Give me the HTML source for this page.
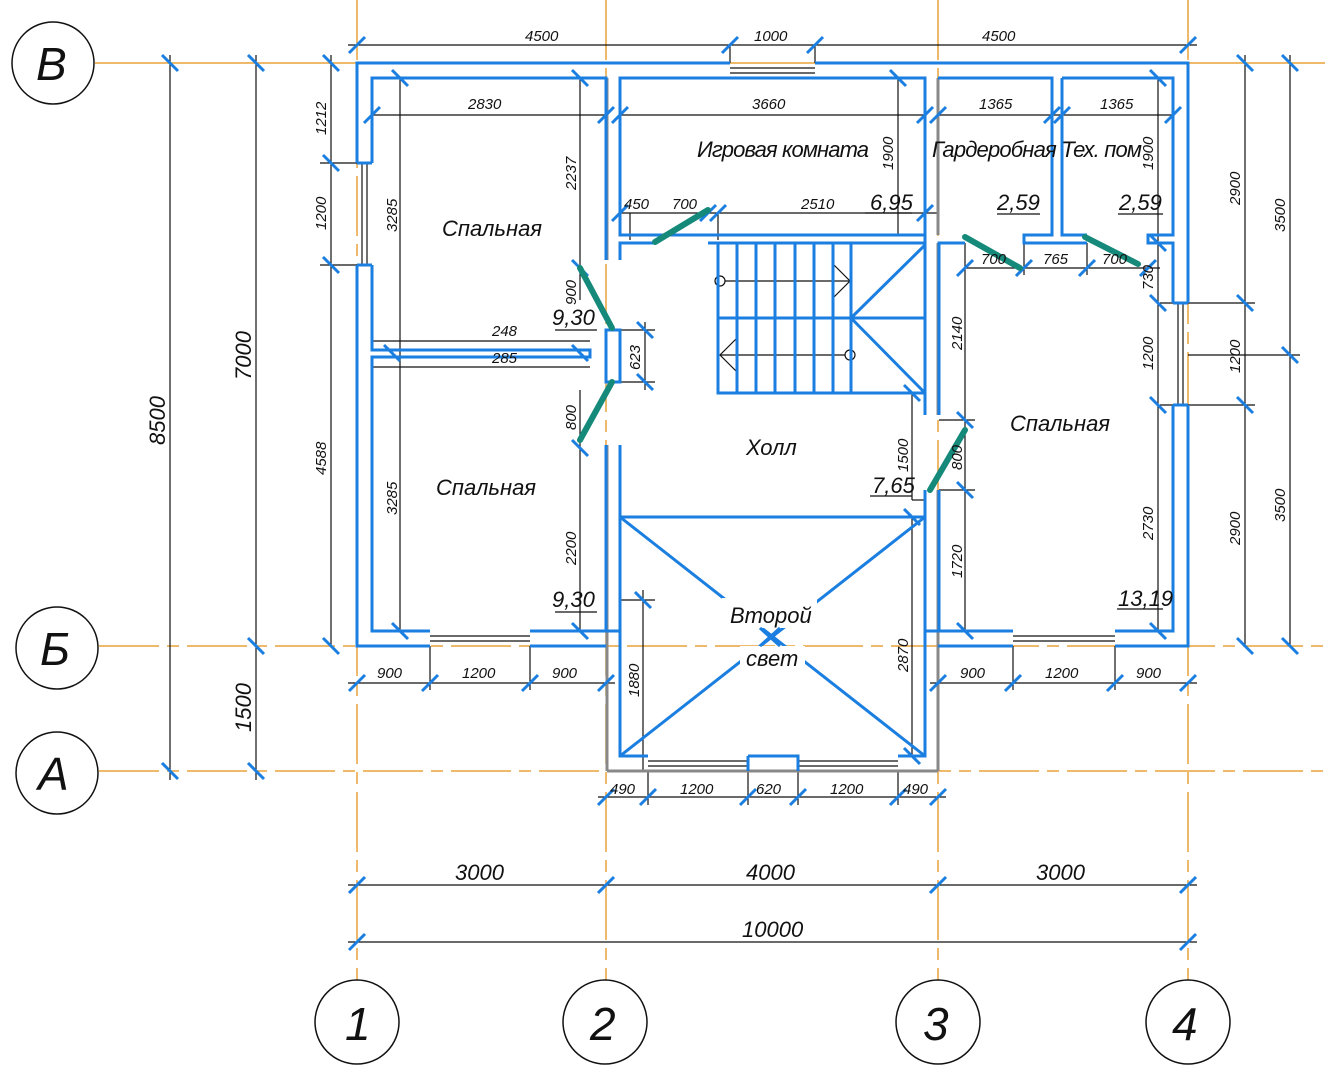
<!DOCTYPE html>
<html><head><meta charset="utf-8"><style>
html,body{margin:0;padding:0;background:#fff}
svg{display:block}
text{font-family:"Liberation Sans",sans-serif;font-style:italic;fill:#111}
</style></head><body>
<svg width="1325" height="1080" viewBox="0 0 1325 1080" xmlns="http://www.w3.org/2000/svg">
<!-- axes -->
<g stroke="#e8a23a" stroke-width="1.5" fill="none">
<line x1="95" y1="63" x2="1325" y2="63"/>
<line x1="99" y1="646" x2="1325" y2="646" stroke-dasharray="60 8 12 8"/>
<line x1="99" y1="771" x2="1325" y2="771" stroke-dasharray="60 8 12 8"/>
<line x1="357" y1="0" x2="357" y2="980" stroke-dasharray="60 8 12 8"/>
<line x1="606" y1="0" x2="606" y2="980" stroke-dasharray="60 8 12 8"/>
<line x1="938" y1="0" x2="938" y2="980" stroke-dasharray="60 8 12 8"/>
<line x1="1188" y1="0" x2="1188" y2="980" stroke-dasharray="60 8 12 8"/>
</g>
<g stroke="#111" stroke-width="1.5" fill="none">
<circle cx="53" cy="63" r="41"/><circle cx="57" cy="648" r="41"/><circle cx="57" cy="773" r="41"/>
<circle cx="357" cy="1022" r="42"/><circle cx="605" cy="1022" r="42"/><circle cx="938" cy="1022" r="42"/><circle cx="1188" cy="1022" r="42"/>
</g>
<g font-size="46">
<text x="36" y="80">В</text><text x="40" y="665">Б</text><text x="38" y="790">А</text>
<text x="345" y="1040">1</text><text x="590" y="1040">2</text><text x="923" y="1040">3</text><text x="1172" y="1040">4</text>
</g>
<!-- dimension lines black -->
<g stroke="#111" stroke-width="1.2" fill="none">
<line x1="170" y1="55" x2="170" y2="780"/><line x1="256" y1="55" x2="256" y2="780"/><line x1="331" y1="55" x2="331" y2="646"/>
<line x1="320" y1="163" x2="357" y2="163"/><line x1="320" y1="265" x2="357" y2="265"/>
<line x1="1245" y1="55" x2="1245" y2="646"/><line x1="1290" y1="55" x2="1290" y2="646"/>
<line x1="1160" y1="303" x2="1255" y2="303"/><line x1="1160" y1="405" x2="1255" y2="405"/><line x1="1188" y1="355" x2="1300" y2="355"/>
<line x1="348" y1="45" x2="1197" y2="45"/>
<line x1="730" y1="45" x2="730" y2="63"/><line x1="815" y1="45" x2="815" y2="63"/>
<line x1="348" y1="683" x2="615" y2="683"/><line x1="930" y1="683" x2="1197" y2="683"/>
<line x1="430" y1="646" x2="430" y2="690"/><line x1="530" y1="646" x2="530" y2="690"/>
<line x1="1013" y1="646" x2="1013" y2="690"/><line x1="1115" y1="646" x2="1115" y2="690"/>
<line x1="598" y1="797" x2="946" y2="797"/>
<line x1="648" y1="771" x2="648" y2="805"/><line x1="748" y1="771" x2="748" y2="805"/><line x1="798" y1="771" x2="798" y2="805"/><line x1="898" y1="771" x2="898" y2="805"/>
<line x1="348" y1="885" x2="1197" y2="885"/><line x1="348" y1="942" x2="1197" y2="942"/>
<line x1="372" y1="115" x2="606" y2="115"/><line x1="400" y1="78" x2="400" y2="631"/><line x1="580" y1="78" x2="580" y2="300"/>
<line x1="580" y1="390" x2="580" y2="631"/>
<line x1="620" y1="115" x2="925" y2="115"/><line x1="898" y1="78" x2="898" y2="235"/>
<line x1="938" y1="115" x2="1173" y2="115"/><line x1="1158" y1="78" x2="1158" y2="631"/>
<line x1="620" y1="213" x2="938" y2="213"/><line x1="630" y1="213" x2="630" y2="240"/><line x1="718" y1="213" x2="718" y2="240"/><line x1="925" y1="213" x2="925" y2="235"/>
<line x1="965" y1="268" x2="1160" y2="268"/><line x1="965" y1="243" x2="965" y2="631"/><line x1="1024" y1="243" x2="1024" y2="275"/><line x1="1087" y1="243" x2="1087" y2="275"/>
<line x1="373" y1="341" x2="590" y2="341"/><line x1="373" y1="367" x2="590" y2="367"/>
<line x1="620" y1="330" x2="655" y2="330"/><line x1="620" y1="382" x2="655" y2="382"/><line x1="645" y1="322" x2="645" y2="390"/>
<line x1="912" y1="393" x2="912" y2="500"/><line x1="912" y1="500" x2="925" y2="500"/><line x1="939" y1="420" x2="975" y2="420"/><line x1="939" y1="490" x2="975" y2="490"/>
<line x1="620" y1="600" x2="655" y2="600"/><line x1="643" y1="590" x2="643" y2="771"/>
<line x1="912" y1="517" x2="912" y2="756"/>
<line x1="555" y1="330" x2="597" y2="330"/><line x1="555" y1="612" x2="597" y2="612"/><line x1="865" y1="213" x2="912" y2="213"/>
<line x1="870" y1="496" x2="912" y2="496"/><line x1="997" y1="214" x2="1040" y2="214"/><line x1="1118" y1="214" x2="1163" y2="214"/><line x1="1117" y1="609" x2="1163" y2="609"/>
<line x1="730" y1="68" x2="815" y2="68"/><line x1="730" y1="73" x2="815" y2="73"/>
<line x1="362" y1="163" x2="362" y2="265"/><line x1="367" y1="163" x2="367" y2="265"/>
<line x1="1178" y1="303" x2="1178" y2="405"/><line x1="1183" y1="303" x2="1183" y2="405"/>
<line x1="430" y1="636" x2="530" y2="636"/><line x1="430" y1="641" x2="530" y2="641"/>
<line x1="1013" y1="636" x2="1115" y2="636"/><line x1="1013" y1="641" x2="1115" y2="641"/>
<line x1="648" y1="761" x2="748" y2="761"/><line x1="648" y1="766" x2="748" y2="766"/>
<line x1="798" y1="761" x2="898" y2="761"/><line x1="798" y1="766" x2="898" y2="766"/>
<line x1="725" y1="281" x2="850" y2="281"/><polyline points="832,263 850,281 832,299"/><circle cx="720" cy="281" r="5" fill="#fff"/>
<line x1="720" y1="355" x2="845" y2="355"/><polyline points="738,337 720,355 738,373"/><circle cx="850" cy="355" r="5" fill="#fff"/>
</g>
<g stroke="#888" stroke-width="3" fill="none">
<line x1="607" y1="78" x2="607" y2="260"/><line x1="607" y1="445" x2="607" y2="771"/><line x1="607" y1="771" x2="938" y2="771"/>
<line x1="938" y1="78" x2="938" y2="235"/><line x1="938" y1="243" x2="938" y2="415"/><line x1="938" y1="490" x2="938" y2="771"/>
</g>
<g stroke="#1a7fe0" stroke-width="3" fill="none">
<path d="M357,163 V63 H730 M815,63 H1188 V303 M1188,405 V646 H1115 M1013,646 H938 M606,646 H530 M430,646 H357 V265"/>
<path d="M372,163 V78 H606 V260 M372,265 V350 H590 V357 H372 V631 H430 M530,631 H606 V445"/>
<path d="M357,163 H372 M357,265 H372"/>
<path d="M620,260 V243 H655 M708,243 H925 M925,243 V235 H620 V78 H925 V235"/>
<path d="M620,330 H606 V382 H620 Z"/>
<path d="M620,445 V756 H648 M748,756 V771 M748,756 H798 V771 M898,756 H925 V490 M925,415 V243"/>
<path d="M938,78 H1052 V235 H1024 V243 H1087 M1062,78 H1173 V235 H1148 V243 H1173 V303 M1173,405 V631 H1115 M1013,631 H939 V490 M939,415 V243 H965"/>
<path d="M1052,78 V235 M1062,78 V235 H1087"/>
<path d="M1173,303 H1188 M1173,405 H1188 M606,631 H620 M925,631 H938"/>
<path d="M718,243 V393 H925 M718,318 H925 M851,243 V393 M851,318 L925,245 M851,318 L925,393"/>
<path d="M737,243V393M756,243V393M775,243V393M795,243V393M814,243V393M833,243V393"/>
<path d="M620,517 H925 M620,517 L925,756 M925,517 L620,756"/>
</g>
<rect x="722" y="598" width="95" height="30" fill="#fff"/>
<rect x="740" y="646" width="65" height="28" fill="#fff"/>
<g stroke="#1a7fe0" stroke-width="3" fill="none">
<path d="M760,628 L780,646 M780,628 L760,646"/>
<path d="M349,53l16,-16M722,53l16,-16M807,53l16,-16M1180,53l16,-16
M349,691l16,-16M422,691l16,-16M522,691l16,-16M598,691l16,-16M930,691l16,-16M1005,691l16,-16M1107,691l16,-16M1180,691l16,-16
M598,805l16,-16M640,805l16,-16M740,805l16,-16M790,805l16,-16M890,805l16,-16M930,805l16,-16
M349,893l16,-16M598,893l16,-16M930,893l16,-16M1180,893l16,-16M349,950l16,-16M1180,950l16,-16
M364,123l16,-16M598,123l16,-16M612,123l16,-16M917,123l16,-16M930,123l16,-16M1044,123l16,-16M1054,123l16,-16M1165,123l16,-16
M612,221l16,-16M700,221l16,-16M710,221l16,-16M917,221l16,-16
M957,276l16,-16M1016,276l16,-16M1079,276l16,-16M1140,276l16,-16"/>
<path d="M162,55l16,16M162,763l16,16M248,55l16,16M248,638l16,16M248,763l16,16
M323,55l16,16M323,155l16,16M323,257l16,16M323,638l16,16
M1237,55l16,16M1237,295l16,16M1237,397l16,16M1237,638l16,16M1282,55l16,16M1282,347l16,16M1282,638l16,16
M392,70l16,16M392,623l16,16M572,70l16,16M572,260l16,16M572,440l16,16M572,623l16,16
M890,70l16,16M637,322l16,16M637,374l16,16M635,592l16,16M904,509l16,16M904,748l16,16M904,385l16,16
M1150,70l16,16M1150,235l16,16M1150,295l16,16M1150,397l16,16M1150,623l16,16
M957,412l16,16M957,482l16,16M957,623l16,16M384,345l16,16M572,345l16,16"/>
</g>
<g stroke="#15897a" stroke-width="6" stroke-linecap="round" fill="none">
<line x1="655" y1="242" x2="708" y2="210"/><line x1="580" y1="268" x2="612" y2="328"/><line x1="612" y1="382" x2="580" y2="440"/>
<line x1="930" y1="490" x2="965" y2="430"/><line x1="965" y1="237" x2="1020" y2="268"/><line x1="1085" y1="237" x2="1138" y2="264"/>
</g>
<g font-size="15">
<text x="525" y="41">4500</text><text x="754" y="41">1000</text><text x="982" y="41">4500</text>
<text x="468" y="109">2830</text><text x="752" y="109">3660</text><text x="979" y="109">1365</text><text x="1100" y="109">1365</text>
<text x="624" y="209">450</text><text x="672" y="209">700</text><text x="801" y="209">2510</text>
<text x="981" y="264">700</text><text x="1043" y="264">765</text><text x="1102" y="264">700</text>
<text x="492" y="336">248</text><text x="492" y="363">285</text>
<text x="377" y="678">900</text><text x="462" y="678">1200</text><text x="552" y="678">900</text>
<text x="960" y="678">900</text><text x="1045" y="678">1200</text><text x="1136" y="678">900</text>
<text x="610" y="794">490</text><text x="680" y="794">1200</text><text x="756" y="794">620</text><text x="830" y="794">1200</text><text x="903" y="794">490</text>
</g>
<g font-size="15">
<text transform="translate(326,135) rotate(-90)">1212</text>
<text transform="translate(326,230) rotate(-90)">1200</text>
<text transform="translate(326,475) rotate(-90)">4588</text>
<text transform="translate(397,232) rotate(-90)">3285</text>
<text transform="translate(397,515) rotate(-90)">3285</text>
<text transform="translate(576,190) rotate(-90)">2237</text>
<text transform="translate(576,565) rotate(-90)">2200</text>
<text transform="translate(576,305) rotate(-90)">900</text>
<text transform="translate(576,430) rotate(-90)">800</text>
<text transform="translate(640,370) rotate(-90)">623</text>
<text transform="translate(893,170) rotate(-90)">1900</text>
<text transform="translate(1153,170) rotate(-90)">1900</text>
<text transform="translate(908,472) rotate(-90)">1500</text>
<text transform="translate(908,672) rotate(-90)">2870</text>
<text transform="translate(639,697) rotate(-90)">1880</text>
<text transform="translate(962,350) rotate(-90)">2140</text>
<text transform="translate(962,470) rotate(-90)">800</text>
<text transform="translate(962,578) rotate(-90)">1720</text>
<text transform="translate(1153,370) rotate(-90)">1200</text>
<text transform="translate(1153,540) rotate(-90)">2730</text>
<text transform="translate(1153,290) rotate(-90)">730</text>
<text transform="translate(1240,205) rotate(-90)">2900</text>
<text transform="translate(1240,373) rotate(-90)">1200</text>
<text transform="translate(1240,545) rotate(-90)">2900</text>
<text transform="translate(1285,232) rotate(-90)">3500</text>
<text transform="translate(1285,522) rotate(-90)">3500</text>
</g>
<g font-size="22">
<text transform="translate(165,445) rotate(-90)">8500</text>
<text transform="translate(251,380) rotate(-90)">7000</text>
<text transform="translate(251,732) rotate(-90)">1500</text>
<text x="455" y="880">3000</text><text x="746" y="880">4000</text><text x="1036" y="880">3000</text>
<text x="742" y="937">10000</text>
<text x="552" y="325">9,30</text><text x="552" y="607">9,30</text><text x="870" y="210">6,95</text><text x="872" y="493">7,65</text>
<text x="997" y="210">2,59</text><text x="1119" y="210">2,59</text><text x="1118" y="606">13,19</text>
<text x="442" y="236">Спальная</text><text x="436" y="495">Спальная</text><text x="1010" y="431">Спальная</text>
<text x="697" y="157" textLength="172">Игровая комната</text><text x="932" y="157" textLength="210">Гардеробная Тех. пом</text>
<text x="746" y="455">Холл</text><text x="730" y="623">Второй</text><text x="746" y="666">свет</text>
</g>
</svg>
</body></html>
